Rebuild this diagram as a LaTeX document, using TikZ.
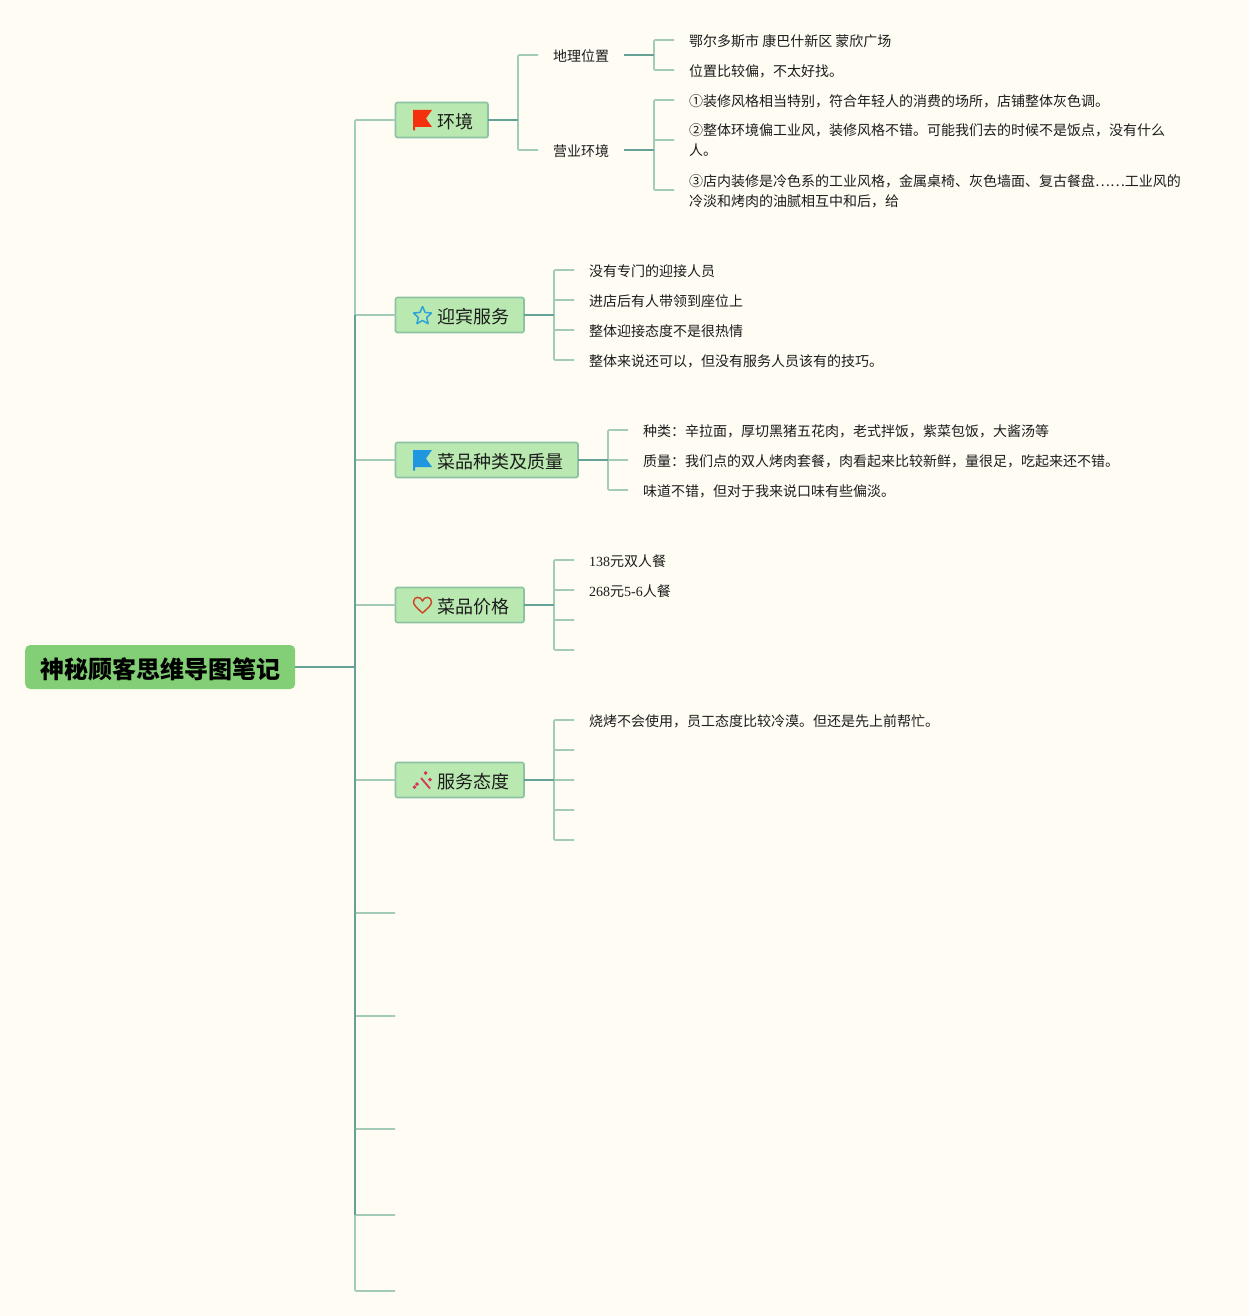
\documentclass[tikz,border=0pt]{standalone}
\usepackage{fontspec}
\setmainfont{Noto Sans CJK SC}
\newfontfamily\latn{Liberation Serif}
\usepackage{tikz}
\usetikzlibrary{shapes.geometric}
\definecolor{paper}{HTML}{FFFCF3}
\definecolor{darkline}{HTML}{65A195}
\definecolor{lightline}{HTML}{A2CCB7}
\definecolor{topicfill}{HTML}{B9E9B0}
\definecolor{topicedge}{HTML}{8CC3A4}
\definecolor{rootfill}{HTML}{82CF75}
\definecolor{inktext}{HTML}{1C1C1C}
\definecolor{flagred}{HTML}{F5300F}
\definecolor{flagblue}{HTML}{1E96E0}
\definecolor{starblue}{HTML}{2EA3D8}
\definecolor{heartred}{HTML}{CC4A2C}
\definecolor{wandred}{HTML}{D9345C}
\def\flagpiece{-- ++(19,0) -- ++(-6,8.5) -- ++(6,8.5) -- ++(-17,0) -- ++(0,3.5) -- ++(-2,0) -- cycle}
\def\dlight{\draw[lightedge]}
\def\dstub{\draw[stubedge]}
\def\padded#1{\hspace*{41.5pt}#1\hspace*{15pt}}
\def\lowline#1{\raisebox{-1pt}[12pt][2pt]{#1}}
\tikzset{
  lightedge/.style={lightline,line width=1.6pt,rounded corners=1pt},
  stubedge/.style={darkline,line width=1.6pt},
  trunkedge/.style={darkline,line width=2pt},
  rootbox/.style={fill=rootfill,rounded corners=5pt,anchor=west,inner xsep=15pt,inner ysep=0pt,minimum height=44pt,
    text height=23pt,text depth=0pt,text=black,font=\fontsize{24}{28}\selectfont\bfseries},
  topicbox/.style={fill=topicfill,draw=topicedge,line width=1.6pt,rounded corners=2pt,anchor=west,inner xsep=0pt,inner ysep=0pt,
    outer sep=0pt,minimum height=35pt,text height=17pt,text depth=0pt,text=inktext,font=\fontsize{18}{22}\selectfont},
  leaf/.style={anchor=west,inner xsep=15pt,inner ysep=0pt,align=left,text=inktext,font=\fontsize{14}{20}\selectfont,
    execute at begin node={\rule{0pt}{14.5pt}}},
  longleaf/.style={anchor=west,inner xsep=15pt,inner ysep=0pt,align=left,text=inktext,font=\fontsize{14}{20}\selectfont},
}
\begin{document}
\begin{tikzpicture}[x=1pt,y=-1pt]
\fill[paper] (0,0) rectangle (1249,1316);
\useasboundingbox (0,0) rectangle (1249,1316);

\node[rootbox] (root) at (25,667) {神秘顾客思维导图笔记};

\node[topicbox] (env)   at (395.5,120) {\padded{环境}};
\node[topicbox] (greet) at (395.5,315) {\padded{迎宾服务}};
\node[topicbox] (dish)  at (395.5,460) {\padded{菜品种类及质量}};
\node[topicbox] (price) at (395.5,605) {\padded{菜品价格}};
\node[topicbox] (serve) at (395.5,780) {\padded{服务态度}};

\coordinate (trunk) at (355,667);
\coordinate (endA) at (395,913);
\coordinate (endB) at (395,1016);
\coordinate (endC) at (395,1129);
\coordinate (endD) at (395,1215);
\coordinate (endE) at (395,1291);

\node[leaf] (place) at (538,55)  {地理位置};
\node[leaf] (room)  at (538,150) {营业环境};
\coordinate (envj)   at (518,120);
\coordinate (placej) at (654,55);
\coordinate (roomj)  at (654,150);

\node[leaf] (p1) at (674,40)  {鄂尔多斯市 康巴什新区 蒙欣广场};
\node[leaf] (p2) at (674,70)  {位置比较偏，不太好找。};
\node[leaf] (r1) at (674,100) {①装修风格相当特别，符合年轻人的消费的场所，店铺整体灰色调。};
\node[longleaf] (r2) at (674,140) {\lowline{②整体环境偏工业风，装修风格不错。可能我们去的时候不是饭点，没有什么}\\\lowline{人。}};
\node[longleaf] (r3) at (674,190) {\lowline{③店内装修是冷色系的工业风格，金属桌椅、灰色墙面、复古餐盘……工业风的}\\\lowline{冷淡和烤肉的油腻相互中和后，给}};

\coordinate (greetj) at (554,315);
\node[leaf] (g1) at (574,270) {没有专门的迎接人员};
\node[leaf] (g2) at (574,300) {进店后有人带领到座位上};
\node[leaf] (g3) at (574,330) {整体迎接态度不是很热情};
\node[leaf] (g4) at (574,360) {整体来说还可以，但没有服务人员该有的技巧。};

\coordinate (dishj) at (608,460);
\node[leaf] (d1) at (628,430) {种类：辛拉面，厚切黑猪五花肉，老式拌饭，紫菜包饭，大酱汤等};
\node[leaf] (d2) at (628,460) {质量：我们点的双人烤肉套餐，肉看起来比较新鲜，量很足，吃起来还不错。};
\node[leaf] (d3) at (628,490) {味道不错，但对于我来说口味有些偏淡。};

\coordinate (pricej) at (554,605);
\node[leaf] (c1) at (574,560) {{\latn 138}元双人餐};
\node[leaf] (c2) at (574,590) {{\latn 268}元{\latn 5-6}人餐};
\coordinate (c3) at (574,620);
\coordinate (c4) at (574,650);

\coordinate (servej) at (554,780);
\node[leaf] (s1) at (574,720) {烧烤不会使用，员工态度比较冷漠。但还是先上前帮忙。};
\coordinate (s2) at (574,750);
\coordinate (s3) at (574,780);
\coordinate (s4) at (574,810);
\coordinate (s5) at (574,840);

\dlight (env.west) -| (trunk);
\dlight (greet.west) -| (trunk);
\dlight (dish.west) -| (trunk);
\dlight (price.west) -| (trunk);
\dlight (serve.west) -| (trunk);
\dlight (endA) -| (trunk);
\dlight (endB) -| (trunk);
\dlight (endC) -| (trunk);
\dlight (endD) -| (trunk);
\dlight (endE) -| (trunk);
\draw[trunkedge] (greet.west -| trunk) -- (endD -| trunk);
\draw[trunkedge] (root.east) -- (trunk);

\dlight (place.west) -| (envj);
\dlight (room.west) -| (envj);
\dstub (env.east) -- (envj);
\dlight (p1.west) -| (placej);
\dlight (p2.west) -| (placej);
\dstub (place.east) -- (placej);
\dlight (r1.west) -| (roomj);
\dlight (r2.west) -| (roomj);
\dlight (r3.west) -| (roomj);
\dstub (room.east) -- (roomj);

\dlight (g1.west) -| (greetj);
\dlight (g2.west) -| (greetj);
\dlight (g3.west) -| (greetj);
\dlight (g4.west) -| (greetj);
\dstub (greet.east) -- (greetj);

\dlight (d1.west) -| (dishj);
\dlight (d2.west) -| (dishj);
\dlight (d3.west) -| (dishj);
\dstub (dish.east) -- (dishj);

\dlight (c1.west) -| (pricej);
\dlight (c2.west) -| (pricej);
\dlight (c3) -| (pricej);
\dlight (c4) -| (pricej);
\dstub (price.east) -- (pricej);

\dlight (s1.west) -| (servej);
\dlight (s2) -| (servej);
\dlight (s3) -| (servej);
\dlight (s4) -| (servej);
\dlight (s5) -| (servej);
\dstub (serve.east) -- (servej);

\fill[flagred] (413,110) \flagpiece;
\fill[flagblue] (413,450) \flagpiece;
\node[star,star points=5,star point ratio=2.2,draw=starblue,line width=1.5pt,inner sep=3.1pt,rounded corners=0.5pt] (stargl) at (422.5,316) {};
\draw[heartred,line width=1.5pt,line join=round] (422.5,613) .. controls (417,608) and (413.5,605) .. (413.5,602)
  .. controls (413.5,596) and (421,596) .. (422.5,601) .. controls (424,596) and (431.5,596) .. (431.5,602)
  .. controls (431.5,605) and (428,608) .. (422.5,613) -- cycle;
\draw[wandred,line width=1.8pt] (421,778) -- (430,788.5);
\foreach \p in {(425.7,773),(430,779.5),(417,784),(414.5,787)}
  \fill[wandred] \p ++(0,-2) -- ++(2,2) -- ++(-2,2) -- ++(-2,-2) -- cycle;
\end{tikzpicture}
\end{document}
